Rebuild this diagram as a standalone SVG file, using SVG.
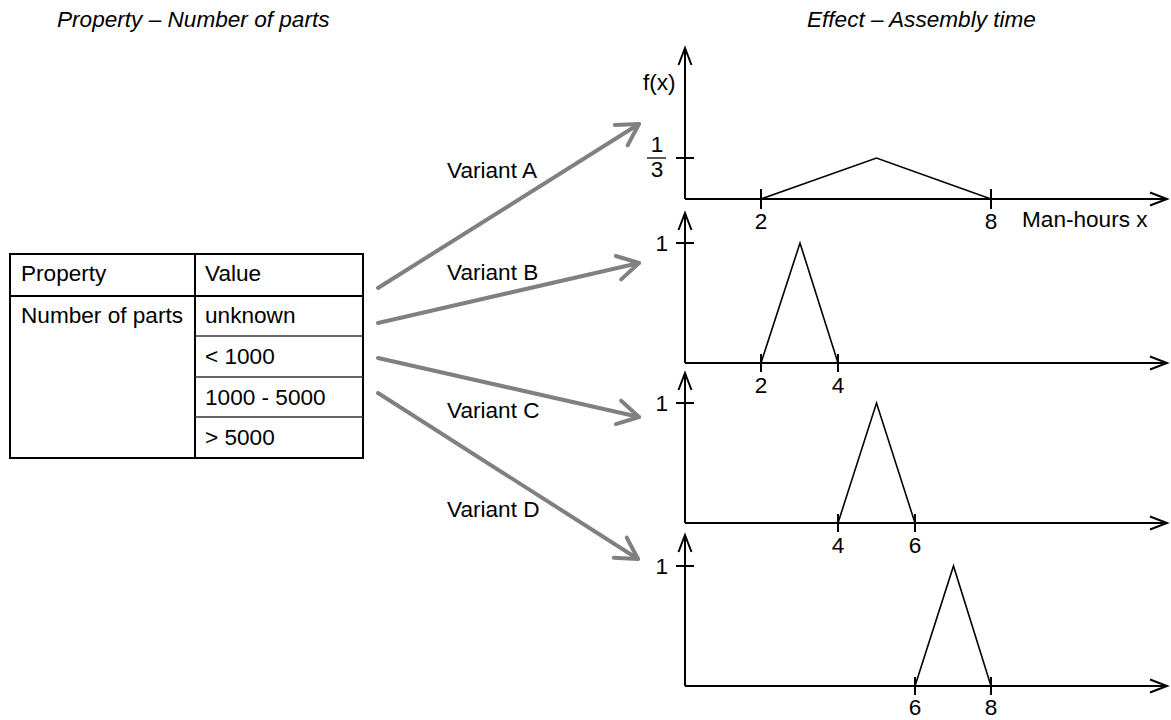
<svg xmlns="http://www.w3.org/2000/svg" width="1171" height="720" viewBox="0 0 1171 720">
<style>
text{font-family:"Liberation Sans",Arial,sans-serif;font-size:22.6px;fill:#000}
.it{font-style:italic}
.mid{text-anchor:middle}
.end{text-anchor:end}
.ax{stroke:#000;stroke-width:2;fill:none}
.tk{stroke:#000;stroke-width:2;fill:none}
.cv{stroke:#000;stroke-width:1.6;fill:none;stroke-linejoin:miter}
.tb{stroke:#000;stroke-width:2;fill:none}
.tbi{stroke:#333;stroke-width:1.4;fill:none}
.conn{stroke:#808080;stroke-width:4;fill:none;stroke-linecap:round}
</style>
<defs>
<marker id="ah" markerUnits="userSpaceOnUse" markerWidth="40" markerHeight="40" viewBox="-20 -20 40 40" refX="0" refY="0" orient="auto">
<path d="M-17,-6.5 L0,0 L-17,6.5" fill="none" stroke="#000" stroke-width="2"/>
</marker>
<marker id="gh" markerUnits="userSpaceOnUse" markerWidth="60" markerHeight="60" viewBox="-30 -30 60 60" refX="0" refY="0" orient="auto">
<path d="M-21,-12 L0,0 L-21,12" fill="none" stroke="#808080" stroke-width="4" stroke-linecap="round" stroke-linejoin="round"/>
</marker>
</defs>

<g id="titles">
<text class="it" x="57" y="27">Property – Number of parts</text>
<text class="it" x="807" y="27">Effect – Assembly time</text>
</g>

<g id="table">
<rect class="tb" x="10" y="254" width="353" height="204"/>
<line class="tb" x1="195" y1="254" x2="195" y2="458"/>
<line class="tb" x1="10" y1="296" x2="363" y2="296"/>
<line class="tbi" x1="195" y1="336" x2="363" y2="336"/>
<line class="tbi" x1="195" y1="377" x2="363" y2="377"/>
<line class="tbi" x1="195" y1="417" x2="363" y2="417"/>
<text x="21" y="281">Property</text>
<text x="205" y="281">Value</text>
<text x="21" y="323">Number of parts</text>
<text x="205" y="323">unknown</text>
<text x="205" y="364">&lt; 1000</text>
<text x="205" y="405">1000 - 5000</text>
<text x="205" y="445">&gt; 5000</text>
</g>

<g id="connectors">
<line class="conn" x1="378" y1="288" x2="639" y2="124" marker-end="url(#gh)"/>
<line class="conn" x1="378" y1="323" x2="639" y2="263" marker-end="url(#gh)"/>
<line class="conn" x1="378" y1="358" x2="639" y2="417" marker-end="url(#gh)"/>
<line class="conn" x1="378" y1="393" x2="638" y2="559" marker-end="url(#gh)"/>
</g>

<g id="labels">
<text x="447" y="178">Variant A</text>
<text x="447" y="280">Variant B</text>
<text x="447" y="418">Variant C</text>
<text x="447" y="517">Variant D</text>
</g>

<g id="graphA">
<line class="ax" x1="685" y1="199" x2="685" y2="48" marker-end="url(#ah)"/>
<line class="ax" x1="685" y1="199" x2="1167" y2="199" marker-end="url(#ah)"/>
<line class="tk" x1="676" y1="158" x2="694" y2="158"/>
<line class="tk" x1="761" y1="189" x2="761" y2="209"/>
<line class="tk" x1="991" y1="189" x2="991" y2="209"/>
<polyline class="cv" points="761,199 876.5,158 991,199"/>
<text x="643" y="90">f(x)</text>
<text class="mid" x="657" y="152">1</text>
<line x1="647" y1="158" x2="666" y2="158" stroke="#000" stroke-width="1.3"/>
<text class="mid" x="657" y="177">3</text>
<text class="mid" x="761" y="229">2</text>
<text class="mid" x="991" y="229">8</text>
<text x="1022" y="227">Man-hours x</text>
</g>

<g id="graphB">
<line class="ax" x1="685" y1="363" x2="685" y2="213" marker-end="url(#ah)"/>
<line class="ax" x1="685" y1="363" x2="1167" y2="363" marker-end="url(#ah)"/>
<line class="tk" x1="676" y1="243" x2="694" y2="243"/>
<line class="tk" x1="761" y1="354" x2="761" y2="372"/>
<line class="tk" x1="838" y1="354" x2="838" y2="372"/>
<polyline class="cv" points="761,363 800,243 838,363"/>
<text class="end" x="668" y="251">1</text>
<text class="mid" x="761" y="393">2</text>
<text class="mid" x="838" y="393">4</text>
</g>

<g id="graphC">
<line class="ax" x1="685" y1="523" x2="685" y2="373" marker-end="url(#ah)"/>
<line class="ax" x1="685" y1="523" x2="1167" y2="523" marker-end="url(#ah)"/>
<line class="tk" x1="676" y1="403" x2="694" y2="403"/>
<line class="tk" x1="838" y1="514" x2="838" y2="532"/>
<line class="tk" x1="915" y1="514" x2="915" y2="532"/>
<polyline class="cv" points="838,523 876.5,403 915,523"/>
<text class="end" x="668" y="411">1</text>
<text class="mid" x="838" y="553">4</text>
<text class="mid" x="915" y="553">6</text>
</g>

<g id="graphD">
<line class="ax" x1="685" y1="686" x2="685" y2="535" marker-end="url(#ah)"/>
<line class="ax" x1="685" y1="686" x2="1167" y2="686" marker-end="url(#ah)"/>
<line class="tk" x1="676" y1="566" x2="694" y2="566"/>
<line class="tk" x1="915" y1="677" x2="915" y2="695"/>
<line class="tk" x1="991" y1="677" x2="991" y2="695"/>
<polyline class="cv" points="915,686 953.5,566 991,686"/>
<text class="end" x="668" y="574">1</text>
<text class="mid" x="915" y="715">6</text>
<text class="mid" x="991" y="715">8</text>
</g>
</svg>
